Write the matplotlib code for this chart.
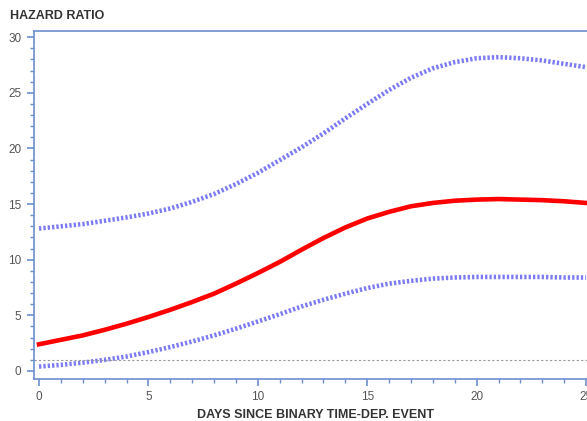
import numpy as np
import matplotlib
matplotlib.use('Agg')
import matplotlib.pyplot as plt
from matplotlib.ticker import MultipleLocator

plt.rcParams['font.family'] = ['Liberation Sans', 'DejaVu Sans']

# datos
dias = list(range(0, 26))
hr = [2.4, 2.8, 3.2, 3.7, 4.25, 4.85, 5.5, 6.2, 6.95, 7.85, 8.8, 9.8, 10.9, 11.95, 12.9,
      13.7, 14.3, 14.8, 15.1, 15.3, 15.4, 15.45, 15.4, 15.35, 15.25, 15.1]
sup = [12.8, 13.0, 13.2, 13.5, 13.8, 14.15, 14.6, 15.2, 15.9, 16.8, 17.8, 18.95, 20.1,
       21.35, 22.7, 24.0, 25.25, 26.35, 27.2, 27.75, 28.1, 28.2, 28.1, 27.9, 27.6, 27.3]
inf = [0.4, 0.55, 0.75, 1.0, 1.3, 1.7, 2.15, 2.65, 3.2, 3.8, 4.45, 5.1, 5.8, 6.4, 6.95,
       7.45, 7.85, 8.1, 8.3, 8.4, 8.45, 8.45, 8.45, 8.45, 8.4, 8.4]
referencia = 1

W, H = 587, 421
fig = plt.figure(figsize=(W / 100, H / 100), dpi=100)
ax = fig.add_axes([34 / W, (H - 379) / H, (597 - 34) / W, (379 - 31) / H])

azul = '#5a5af0'
ax.plot(dias, sup, color=azul, lw=3.3, ls=(0, (0.5, 0.45)), alpha=0.8)
ax.plot(dias, inf, color=azul, lw=3.3, ls=(0, (0.5, 0.45)), alpha=0.8)
ax.plot(dias, hr, color='#ff0000', lw=3.3, solid_joinstyle='round')
ax.axhline(referencia, color='#999999', lw=0.8, ls=(0, (2, 2)))

ax.set_xlim(-0.23, 25.5)
ax.set_ylim(-0.72, 30.55)
ax.xaxis.set_major_locator(MultipleLocator(5))
ax.xaxis.set_minor_locator(MultipleLocator(1))
ax.yaxis.set_major_locator(MultipleLocator(5))
ax.yaxis.set_minor_locator(MultipleLocator(1))

eje = '#6c8fd0'
for s in ax.spines.values():
    s.set_color(eje)
    s.set_linewidth(1.2)
ax.tick_params(which='major', length=5, color=eje, width=1.2, labelsize=8.5,
               labelcolor='#555555', pad=4)
ax.tick_params(which='minor', length=3, color=eje, width=1)

ax.set_xlabel('DAYS SINCE BINARY TIME-DEP. EVENT', fontsize=9, fontweight='bold',
              color='#333333', labelpad=4)
fig.text(10 / W, 1 - 16 / H, 'HAZARD RATIO', fontsize=9, fontweight='bold',
         color='#333333', va='center', ha='left')

plt.savefig('out.png', dpi=100)
plt.close()
